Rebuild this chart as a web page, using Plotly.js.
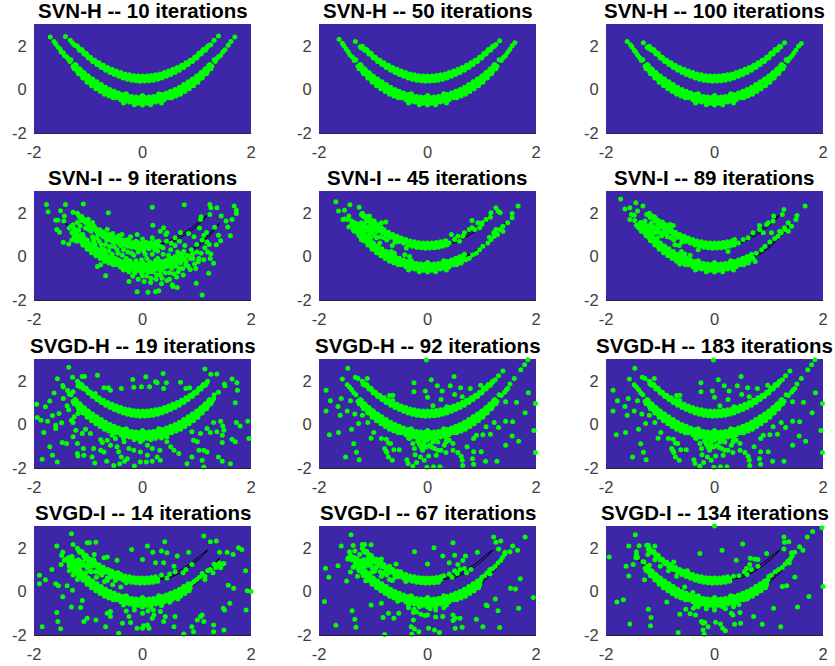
<!DOCTYPE html>
<html><head><meta charset="utf-8"><script src="https://cdn.plot.ly/plotly-3.0.1.min.js"></script>
<style>html,body{margin:0;padding:0;background:#fff}</style></head><body><div id="chart" style="width:835px;height:666px"></div>
<script>
const titles=["SVN-H -- 10 iterations","SVN-H -- 50 iterations","SVN-H -- 100 iterations","SVN-I -- 9 iterations","SVN-I -- 45 iterations","SVN-I -- 89 iterations","SVGD-H -- 19 iterations","SVGD-H -- 92 iterations","SVGD-H -- 183 iterations","SVGD-I -- 14 iterations","SVGD-I -- 67 iterations","SVGD-I -- 134 iterations"];
const xTicks=[-2,0,2], yTicks=[-2,0,2], tickLabelsText=["-2","0","2"];
const xRange=[-2,2], yRange=[-2,3];
// flat x,y lists
const upperBand=[-1.2,1.98,-1.16,1.8,-1.12,1.83,-1.08,1.62,-1.04,1.66,-1,1.44,-.96,1.47,-.92,1.28,-.88,1.34,-.84,1.14,-.8,1.22,-.76,1,-.72,1.11,-.68,.88,-.64,1.01,-.6,.77,-.56,.92,-.52,.68,-.48,.84,-.44,.6,-.4,.78,-.36,.52,-.32,.71,-.28,.47,-.24,.67,-.2,.42,-.16,.63,-.12,.4,-.08,.62,-.04,.37,0,.61,.04,.38,.08,.62,.12,.4,.16,.64,.2,.42,.24,.67,.28,.47,.32,.71,.36,.52,.4,.78,.44,.6,.48,.84,.52,.68,.56,.92,.6,.77,.64,1.01,.68,.88,.72,1.11,.76,1,.8,1.22,.84,1.14,.88,1.34,.92,1.28,.96,1.47,1,1.44,1.04,1.66,1.08,1.62,1.12,1.83,1.16,1.8,1.2,1.98,-.8,1.14,-.64,.91,-.48,.73,-.32,.6,-.16,.53,0,.5,.16,.53,.32,.6,.48,.73,.64,.91,.8,1.14,-1.18,1.9,-1.1,1.74,-1.02,1.56,-.94,1.38,-.9,1.32,-.86,1.24,-.78,1.1,-.7,.99,-.6,.86,-.56,.8,-.52,.76,-.44,.69,-.4,.66,-.36,.62,-.28,.57,-.24,.55,-.2,.53,-.12,.51,-.08,.5,-.04,.49,.04,.49,.08,.5,.12,.51,.2,.53,.24,.55,.28,.57,.36,.62,.4,.66,.44,.69,.52,.76,.56,.8,.6,.86,.7,.99,.78,1.1,.86,1.24,.9,1.32,.94,1.38,1.02,1.56,1.1,1.74,1.18,1.9];
const lowerBand=[-1.32,1.36,-1.28,1.06,-1.24,1.14,-1.2,.84,-1.16,.95,-1.12,.66,-1.08,.77,-1.04,.47,-1,.62,-.96,.31,-.92,.48,-.88,.17,-.84,.35,-.8,.04,-.76,.22,-.72,-.1,-.68,.1,-.64,-.2,-.6,0,-.56,-.3,-.52,-.09,-.48,-.38,-.44,-.16,-.4,-.48,-.36,-.23,-.32,-.54,-.28,-.28,-.24,-.58,-.2,-.32,-.16,-.62,-.12,-.35,-.08,-.63,-.04,-.36,0,-.65,.04,-.36,.08,-.63,.12,-.35,.16,-.61,.2,-.32,.24,-.58,.28,-.28,.32,-.54,.36,-.23,.4,-.48,.44,-.16,.48,-.38,.52,-.09,.56,-.3,.6,0,.64,-.2,.68,.1,.72,-.1,.76,.22,.8,.04,.84,.35,.88,.17,.92,.48,.96,.31,1,.62,1.04,.47,1.08,.77,1.12,.66,1.16,.95,1.2,.84,1.24,1.14,1.28,1.06,1.32,1.36,-1.2,.94,-1.08,.67,-.96,.42,-.84,.21,-.72,.02,-.6,-.14,-.48,-.27,-.36,-.37,-.24,-.44,-.12,-.49,0,-.5,.12,-.49,.24,-.44,.36,-.37,.48,-.27,.6,-.14,.72,.02,.84,.21,.96,.42,1.08,.67,1.2,.94,-1.26,.95,-1.18,.72,-1.1,.52,-1.02,.33,-.94,.17,-.86,.03,-.78,-.1,-.7,-.22,-.62,-.3,-.54,-.38,-1.22,1.1,-1.14,.88,-1.06,.7,-.98,.52,-.9,.38,-.82,.24,-.74,.12,-.66,0,-.58,-.08,-.5,-.16,1.26,.95,1.18,.72,1.1,.52,1.02,.33,.94,.17,.86,.03,.78,-.1,.7,-.22,.62,-.3,.54,-.38,1.22,1.1,1.14,.88,1.06,.7,.98,.52,.9,.38,.82,.24,.74,.12,.66,0,.58,-.08,.5,-.16,-.44,-.3,-.4,-.36,-.32,-.4,-.28,-.42,-.2,-.46,-.16,-.48,-.08,-.5,-.04,-.52,.04,-.52,.08,-.5,.16,-.48,.2,-.46,.28,-.42,.32,-.4,.4,-.36,.44,-.3,-.3,-.2,0,-.28,.3,-.2,-.15,-.7,.15,-.7,0,-.72,-.35,-.62,.35,-.62];
const leftFill=[-1.4,1.45,-1.35,1.55,-1.33,1.35,-1.3,1.5,-1.28,1.25,-1.24,1.4,-1.2,1.3,-1.18,1.45,-1.15,1.15,-1.12,1.35,-1.08,1.2,-1.05,1.5,-1.02,1.1,-1,1.35,-.97,.95,-.93,1.15,-.9,1.45,-.87,.9,-.83,1.2,-.8,.85,-.75,.75,-.7,.95,-.65,.5,-.6,.65,-.55,.7,-1.35,1.15,-1.25,1.05,-1.15,.9,-1.05,.85];
const svnH10=[-1.7,2.4,-1.63,2.2,-1.6,2.08,-1.56,1.95,-1.52,1.85,-1.5,1.72,-1.46,1.68,-1.44,1.55,-1.4,1.5,-1.37,1.42,-1.34,1.28,1.7,2.4,1.63,2.2,1.58,2.02,1.52,1.82,1.48,1.72,1.44,1.55,1.4,1.5,1.37,1.42,1.34,1.28,-1.42,2.43,-1.33,2.25,-1.29,2.13,-1.25,2.03,-1.22,2,1.4,2.45,1.32,2.25,1.26,2.05,1.23,2.02];
const svnH50=[-1.63,2.3,-1.57,2.12,-1.54,2,-1.5,1.85,-1.46,1.72,-1.43,1.58,-1.38,1.48,-1.35,1.32,1.61,2.14,1.56,2,1.52,1.84,1.48,1.7,1.44,1.56,1.4,1.46,1.36,1.32,-1.33,2.2,-1.24,1.96,-1.22,1.9,1.33,2.23,1.26,2.06,1.23,1.98];
const svnH100=[-1.61,2.2,-1.55,2.05,-1.52,1.95,-1.48,1.8,-1.45,1.7,-1.42,1.58,-1.38,1.46,-1.35,1.32,1.6,2.11,1.55,1.98,1.5,1.8,1.46,1.66,1.42,1.52,1.38,1.42,1.35,1.3,-1.31,2.14,-1.24,1.93,-1.21,1.88,1.29,2.14,1.22,1.96];
const svnI9=[-1.77,2.38,-1.74,2.05,-1.51,2.09,-1.42,2.38,-1.09,2.4,-1.28,2.02,-1.44,1.85,-1.6,1.66,-1.56,1.66,-1.45,1.62,-.63,2,.18,2.26,.77,2.37,1.24,2.38,1.26,2.23,1.37,2.23,1.69,2.31,1.73,2.12,1.73,1.97,1.24,1.92,1.45,1.85,1.08,1.82,1.07,1.69,1.54,1.62,1.57,1.35,1.65,1.69,1.62,.95,1.33,1.34,1.4,.97,1.44,.72,1.36,.54,1.13,.97,1.19,.66,1.26,.11,1.31,-.31,1.22,-.77,1.1,-1.77,.99,-1.23,-.1,-1.62,.1,-1.65,.24,-1.62,.3,-1.58,.64,-1.43,.56,-1.38,-.68,-.89,-.77,-.38,-.83,-.46,-.25,-1.15,-1.53,1.11,-1.58,1.23,-1.46,.65,-1.36,.57,.19,1.43,.39,1.31,.33,1.15,.45,1.08,-1.35,1.3,-1.3,1.1,-1.28,1.45,-1.25,.9,-1.2,1.55,-1.18,1.2,-1.15,.8,-1.12,1.65,-1.1,1,-1.08,.6,-1.05,1.3,-1.02,.75,-1,1.7,-.98,.45,-.95,1.15,-.92,.9,-.9,1.4,-.88,.55,-.85,.2,-.82,1,-.8,.7,-.78,1.2,-.75,.35,-.72,.9,-.7,.05,-.68,.55,-.65,1.25,-.62,.25,-.6,.75,-.58,-.1,-.55,1.05,-.52,.45,-.5,-.3,-.48,.85,-.45,.15,-.42,.6,-.4,-.5,-.38,1,-.35,.3,-.32,.75,-.3,-.1,-.28,.5,-.25,-.7,-.22,.9,-.2,.15,-.18,-.9,-.15,.65,-.12,-.2,-.1,1,-.08,-1.05,-.05,.35,-.02,-.75,0,.8,.03,-1.15,.05,.1,.08,-.9,.1,.55,.13,-.25,.15,-1.2,.18,.85,.2,-.7,.23,.3,.25,-1.05,.28,-.1,.3,.7,.33,-.85,.35,-1.25,.38,.4,.4,-.5,.43,1,.45,-1.1,.48,.05,.5,-.75,.53,.6,.55,-1.3,.58,-.3,.6,.85,.63,-.95,.65,.2,.68,-.55,.7,1.1,.73,-.15,.75,-.85,.78,.5,.8,-.4,.83,.05,.85,1.05,.88,-.6,.9,.3,.93,-.1,.95,.9,.98,-.55,1,.55,1.03,-.25,1.05,1.3,1.08,.15,1.1,.75,1.13,-.15,1.15,.4,1.18,1.1,1.2,.2,1.23,.55,1.25,-.1,-.9,.75,-.86,.3,-.84,.85,-.8,.1,-.76,.55,-.74,1.05,-.7,.3,-.66,.75,-.64,-.15,-.6,.45,-.58,1,-.56,.1,-.54,.65,-.5,-.1,-.47,.3,-.44,.95,-.42,-.25,-.4,.5,-.37,.05,-.35,-.4,-.33,.55,-.3,-.6,-.27,.2,-.25,.8,-.23,-.2,-.2,-.5,-.18,.45,-.16,.05,-.14,-.75,-.12,.7,-.1,-.35,-.08,.2,-.06,-.6,-.04,.5,-.02,-.15,0,-.9,.02,.25,.04,-.45,.06,.65,.08,-.1,.1,-.7,.12,.35,.14,-.3,.16,-1,.18,.1,.2,-.55,.22,.55,.24,-.2,.26,-.85,.28,.25,.3,-.4,.32,-.65,.34,.45,.36,-1,.38,.1,.4,-.25,.42,-.75,.44,.7,.46,-.45,.48,-.15,.5,-1.05,.52,.3,.54,-.55,.56,-.2,.58,-.8,.6,.5,.62,-.45,.64,-.1,.66,-.7,.68,.7,.7,-.3,.72,.05,.74,-.55,.76,.2,.8,-.25,.84,-.45,.88,-.1,.92,.1,.96,-.35,1,.2,1.04,-.1,-1.3,.75,-1.25,1.25,-1.22,.7,-1.15,1.4,-1.12,1,-1.08,.85,-1.05,1.55,-1,.6,-1,1.25,-.95,.4,-.92,1.55,-.9,.65];
const svnI45=[-1.69,2.51,-1.64,2.08,-1.53,2.12,-1.43,2.37,-1.26,2.26,-1.56,1.69,-1.53,1.72,-1.45,1.85,-1.47,1.69,-1.4,1.62,-1.45,1.35,-1.37,1.23,-1.31,1.38,-1.22,1.92,-1.19,1.85,-1.1,1.69,-1.07,1.85,-1.22,.77,-.98,1.62,-.85,1.54,-.77,1.58,-1.25,1.23,-1.16,1.46,-1.13,1.23,-1.07,1,-1.28,1.08,-1.19,1.08,-1.1,1.31,-1.01,1.23,-1.22,1.54,-1.13,1.62,-1.04,1.38,-.94,.85,-.88,.62,-.85,1.31,-.76,1,-.82,1.08,-.67,.23,-.61,.15,-.76,.15,-.42,.08,-.33,0,-.18,.46,-.39,.38,.44,1,.56,.92,.5,.77,.4,.62,.34,.72,.59,.69,.65,.92,.68,1.08,.77,1.23,.82,1.31,.87,1.23,.82,1.65,.93,1.54,1.01,1.54,.96,1.31,1.08,1.69,1.26,2.23,1.3,2.08,1.34,2,1.17,2,1.16,1.8,1,1.46,.96,.31,1.02,.46,1.11,.62,1.17,.77,1.23,.92,1.29,1,1.39,1.15,1.26,1.23,1.39,1.38,1.48,1.54,1.56,1.77,1.56,1.97,1.67,2.31,1.33,1.23,1.22,1.08,1.14,.88,.9,.15,.83,.08,.77,-.08,.71,-.15];
const svnI89=[-1.73,2.63,-1.65,2.18,-1.56,2.23,-1.45,2.46,-1.32,2.31,-1.42,2.08,-1.53,1.92,-1.48,1.89,-1.56,1.69,-1.47,1.65,-1.44,1.43,-1.4,1.31,-1.34,1.23,-1.37,1.54,-1.28,1.62,-1.25,1.92,-1.19,1.8,-1.1,1.8,-1.07,1.62,-.96,1.58,-.82,1.46,-.76,1.42,-1.16,1.54,-1.13,1.31,-1.04,1.31,-1.25,1.15,-1.19,1,-1.1,1.08,-.98,1.08,-.82,1.23,-.76,1.08,-.88,1,-.73,.54,-.61,.23,-.55,.11,-.45,.05,-.64,-.35,-.3,.31,.25,.23,1.28,2.15,1.25,1.92,1.09,1.85,1.08,1.62,1.52,1.88,1.5,1.69,1.67,2.31,1.36,1.54,1.42,1.38,.96,1.46,.83,1.42,.83,1.23,.9,1.08,.99,1.54,.71,1.08,.62,.85,.53,.77,.44,.62,.37,.77,1.05,1.08,1.17,.92,1.23,1.08,1.3,1.23,1.11,.82,1.02,.66,.93,.46,.87,.31,.77,.15,.71,-.08,.75,-.23,.56,-.15,1.29,1.31,1.36,1.15,1.2,1.15];
const svgdH19=[-1.36,2.62,-1.29,2.16,-1.57,2.09,-1.11,2.2,-1.07,2.2,-.83,2.25,-1.47,1.79,-1.46,1.71,-1.63,1.44,-1.71,1.07,-1.95,.93,-1.79,.81,-1.46,1.19,-1.16,1.85,-1.19,1.77,-1.14,1.7,-.99,1.5,-.87,1.42,-.71,1.68,-.63,1.68,-.59,1.57,-.39,1.65,-.18,2.06,-.16,1.7,.06,2.19,-.02,1.73,.13,1.73,.24,1.96,.38,2.33,.27,1.91,.44,1.91,.39,1.65,.7,1.93,.8,1.65,.87,1.68,1.15,2.54,1.26,2.3,1.37,2.31,1.12,1.8,.94,1.42,1.51,1.85,1.52,1.77,1.65,2.08,1.74,1.91,1.75,1.57,1.4,1.47,1.71,.99,1.31,1.19,-1.94,.32,-1.87,.19,-1.66,.41,-1.75,.15,-1.82,-.37,-1.6,-.04,-1.54,.5,-1.39,.85,-1.36,.67,-1.31,.19,-1.28,.09,-1.19,.5,-1.26,.35,-1.49,.07,-1.6,-.19,-1.71,-1.03,-1.66,-1.42,-1.85,-1.6,-1.57,-1.72,-1.48,-.83,-1.4,-.88,-1.28,-.57,-1.2,-.88,-1.2,-1.34,-1.19,-1.45,-1.09,-1.11,-1.23,-.27,-1.11,-.42,-1.05,-.22,-.96,-.42,-1.08,-1.42,-.9,-1.11,-.88,-1.77,-.93,-1.49,-.66,-1.69,-.53,-1.88,-.42,-1.8,-.15,-1.91,-.77,-.7,-.74,-.83,-.65,-.73,-.59,-.96,-.77,-1.19,-.71,-1.27,-.47,-1.03,-.44,-1.26,-.39,-1.49,-.33,-1.69,-.28,-1.57,-.56,-.5,-.5,-.65,-.34,-.8,-.25,-1.11,-.16,-1.19,-.04,-1.72,.07,-1.72,.18,-1.69,-.04,-1.27,.09,-1.42,.27,-1.49,.33,-1.65,.52,-1.03,.45,-.8,.58,-1.19,.67,-1.34,.82,-1.8,.91,-1.49,.94,-.73,.91,-.34,1.01,-.8,1.04,-1.19,1.13,-1.19,1.19,-1.27,1.1,-1.65,1.13,-1.95,1.4,-1.49,1.47,-1.69,1.62,-1.8,1.71,-.8,1.65,-.68,1.96,-.65,1.8,-.07,1.94,.15,1.73,.09,1.44,.15,1.48,-.07,1.5,-.27,1.25,-.37,1.37,-.34,1.47,-.5,1.31,.09,1.19,-.19,1.07,-.42,1.47,-.83,.18,-1.11,.32,-1.19,.09,-.96,-.04,-.8,.24,-.65,.45,-.57,-1.38,1.55,-1.35,1.4,-1.28,1.5,1.28,1.12];
const svgdH92=[-.02,2.95,1.85,2.97,1.79,2.74,1.72,2.51,1.6,2.11,1.52,1.85,1.48,1.65,1.39,2.45,1.31,2.23,1.25,2.05,1.2,1.96,-1.47,2.57,-1.57,2.08,-1.33,2.16,-1.28,2.11,-1.11,2.11,-1.19,1.85,-1.87,1.57,-1.79,1.08,-1.59,1.19,-1.65,.82,-1.87,.61,-1.61,.42,-1.48,.62,-1.42,1.08,-1.34,.48,-1.2,.42,-1.27,.04,-1.4,-.22,-1.81,-.48,-1.64,-.37,-1.1,.09,-1.04,-.63,-.99,-.37,-1.36,-.89,-1.31,-1.28,-1.51,-1.49,-1.26,-1.62,-.85,-.65,-.76,-.68,-.72,-.85,-.68,-.88,-.79,-1.11,-.77,-1.2,-.75,-1.29,-.62,-1.16,-.52,-1.16,-.72,-1.49,-.65,-1.65,-.38,-1.62,-.36,-1.79,-.27,-1.92,-.2,-1.75,-.23,-1.39,-.13,-1.49,-.06,-1.65,-.01,-1.97,.11,-1.94,.23,-1.94,.02,-1.45,.16,-1.42,.34,-1.29,.25,-1.19,.47,-1.19,.56,-1.29,.62,-1.46,.64,-1.65,.65,-1.88,.73,-1.03,.85,-1.26,.83,-1.57,.85,-1.83,.99,-1.26,1.07,-1.69,1.28,-1.69,1.44,-.96,1.56,-.53,1.68,-.77,1.16,-.45,1.02,-.47,.9,-.5,.85,-.65,1.08,-.11,1.23,.09,1.31,-.14,1.44,.15,1.57,.12,1.96,-.28,1.99,-1.29,1.99,.96,1.8,.53,1.64,1.02,1.86,1.45,1.44,1.04,-.25,1.91,-.25,1.5,-.04,1.53,.07,2.05,0,1.24,.18,1.77,.42,1.77,.49,2.2,.27,1.53,.25,1.14,.36,.81,.5,1.37,.61,1.68,.64,1.27,.79,1.65,.98,1.8,.1,.85,-.64,1.34,-.7,1.32,-.64,1.1,-.33,-.65,-.27,-.88,-.24,-1.11,-.18,-.77,-.12,-1.03,-.09,-1.19,-.06,-.81,-.02,-1.04,.04,-.96,.13,-1.11,.19,-1.19,.1,-.81,.19,-.81,.34,-.81,.31,-.96,.4,-.73,.47,-.88,-.15,-.9,-.07,-.93,-.1,-1.1,.08,-1.05,-1.48,1.82,-1.44,1.72,-1.4,1.6,-1.36,1.45,1.36,1.32,1.42,1.48,1.45,1.58];
const svgdI14=[-1.31,2.65,-1.28,2.15,-1.58,2.08,-1.02,2.23,-.98,2.23,-.86,2.25,-1.47,1.8,-1.49,1.65,-1.44,1.43,-1.5,1.23,-1.36,1.31,-1.67,1,-1.9,.74,-1.9,.35,-1.79,.54,-1.6,.35,-1.55,.26,-1.39,.26,-1.29,.05,-1.47,-.25,-1.31,-.72,-1.14,-.74,-1.11,-.42,-1.58,-.97,-1.56,-1.38,-1.51,-1.71,-1.85,-1.62,-1.08,-1.38,-1.02,-1.23,-.86,-1.31,-.68,-1.62,-.65,-1,-.59,-.92,-.59,-1.15,-.44,-1.92,-.37,-1.46,-.22,-1.43,-.25,-1.15,-.1,-1.69,.02,-1.58,.09,-1.54,0,-1.69,.12,-1.69,.21,-1.08,.18,-1.23,.33,-.92,.42,-1.15,.39,-1.38,.6,-1.15,.58,-1.62,.76,-1.95,.91,-1.62,.94,-1.85,1.01,-1.31,1.07,-1.15,1.1,-1.08,1.13,-1.38,1.31,-1.54,1.31,-1.85,1.5,-1.77,1.49,-.77,1.51,-.85,1.61,-.54,1.91,-.85,1.58,.28,1.68,.15,1.93,.03,2,0,1.9,.95,1.44,1.08,1.56,1.8,1.67,1.69,1.77,2,1.83,1.92,1.42,1.8,1.25,2.28,1.36,2.31,1.13,2.54,.91,1.23,.64,1.62,.85,1.8,.45,1.77,.35,1.85,.41,2.28,.09,2.08,.19,1.8,0,1.46,-.2,1.92,-.47,1.43,-.65,1.58,-.71,1.54,-.89,1.69,.24,1.31,.39,1.31,.58,1.15,-1.4,1.5,-1.3,1.6,-1.25,1.4,-1.2,1.15,-1.15,.95,-1.1,1.35,-1.05,1.6,-1,1.15,-.95,.9,-.9,1.3,-.85,.65,-.8,1,-.75,.8,-.7,.45,-.65,.6,-.6,.95,-.55,.3,-.5,.5,-.45,.85,-.4,.2,-.3,.4,-1.2,.55,-1.12,.7,-1.35,.95,-1.28,.75,-.3,-.9,-.15,-.85,0,-1,.1,-.9,.2,-.85,.35,-.65,.5,-.5,.65,-.35,.35,.75,.45,.62,.5,.8,.6,.9,.75,.85,.8,1,.95,.45,1,.55,1.05,.65,1.1,.82,1.15,.7,1.2,.95,1.25,1,1.3,.85,1.32,1.25,1.38,1.22,1.42,1.3,1.35,1.1,1.45,1.2,1.5,1.28,.9,.35,1.15,.55];
const svgdI67=[-1.41,2.6,-1.37,2.11,-1.59,2.08,-1.2,2.15,-1.16,2.15,-1.04,2.14,-1.44,1.82,-1.42,1.65,-1.47,1.49,-1.34,1.85,-1.25,1.69,-1.65,1.18,-1.88,1.06,-1.82,.65,-1.9,-.46,-1.49,.48,-1.37,1.11,-1.42,.89,-1.29,.69,-1.14,.49,-1.04,-.62,-.85,-.54,-1.39,-.89,-1.34,-1.28,-1.32,-1.65,-1.69,-1.55,-.82,-1.2,-.72,-1,-.62,-1.23,-.53,-1,-.26,-.97,-.26,-1.31,-.79,-1.98,-.3,-1.62,-.24,-1.72,-.16,-1.85,-.29,-1.97,.02,-1.69,.13,-1.77,.22,-1.89,.15,-1.18,.28,-1.15,0,-1.08,.47,-1.08,.47,-1.34,.51,-1.23,.6,-1.23,.51,-1.69,.64,-1.65,.9,-1.28,1.02,-1.62,1.33,-1.66,1.3,-.89,1.08,-.62,1.1,-.66,1.25,-.35,1.68,-.77,1.53,.15,1.62,.11,1.71,.58,1.95,-.28,1.57,2.08,1.66,1.89,1.52,1.82,1.43,1.8,1.8,2.49,1.22,2.49,1.26,2.26,1.35,2.31,1.31,1.95,.92,1.8,.7,1.62,.5,1.66,.47,2.23,.65,1.42,.12,2,.28,1.62,.4,1.31,0,1.26,-.24,1.82,-.58,1.26,-.7,1.15,-.85,1.49,-.94,1.46,-1.07,1.58,.56,1.23,.3,.72,.4,.8,.45,.65,.5,.95,.55,.82,.6,1,.68,1.05,.72,.85,.8,1,1,.65,1.05,.72,1.1,.85,1.15,1,1.2,1.05,1.25,1.15,1.3,1.3,1.35,1.42,1.38,1.55,1.42,1.7,1.15,.8,-1.45,1.55,-1.38,1.45,-1.3,1.3,-1.25,1.15,-1.2,.95,-1.1,1.5,-1.05,1.3,-1,.9,-.95,1.1,-.85,1.3,-.85,.7,-.75,1.05,-.7,.55,-.6,.8,-.5,.9,-.4,.45,-.35,-.75,-.25,-.82,-.2,-.95,-.12,-1.05,-.05,-1.1,.05,-.8,.15,-.85,.3,-.75,-.55,-.45];
const svgdI134=[0,3,1.98,2.92,1.81,2.75,1.71,2.49,-1.46,2.6,-1.39,2.09,-1.58,2.08,-1.25,2.12,-1.22,2.12,-1.1,2.08,-1.94,1.58,-1.44,1.82,-1.44,1.69,-1.45,1.54,-1.63,1.15,-1.5,1.23,-1.58,.71,-1.29,.54,-1.22,1.92,-1.23,1.69,-1.8,-.49,-1.68,-.38,-1.22,-.82,-1.17,-1.2,-1.18,-1.58,-1.56,-1.49,-.67,-1.88,-.88,-.49,-.64,-1.05,-.53,-.82,-.45,-1.03,-.39,-.77,-.35,-1.08,-.24,-1.38,-.21,-1.46,-.18,-1.43,-.12,-1.62,-.21,-1.77,-.19,-1.97,.02,-1.42,.11,-1.49,.15,-1.69,.2,-1.8,.31,-1,.34,-1.08,.47,-.97,.37,-1.51,.48,-1.46,.72,-1.15,.88,-1.51,1.22,-1.62,1.09,-.77,1.53,-.72,1.74,-.23,2,.23,1.48,.66,1.33,.26,1.25,.23,1.28,2.49,1.29,2.26,1.37,2.28,1.28,1.95,1.57,2.05,1.63,1.89,1.48,1.8,1.42,1.77,.52,2.17,.14,1.89,-.27,1.74,.96,1.74,.66,1.52,.4,1.43,.74,1.49,.8,1.46,.59,1.05,.65,1.23,-1.42,1.55,-1.3,1.35,-1.2,1.2,-1.1,1.45,-1,1.15,-.9,1.3,-.85,.95,-.75,1.35,-.7,.7,-.6,.9,-.5,.95,-.55,.2,-.4,-.05,-.3,-.7,-.15,-.8,0,-.85,.2,-.8,.35,-.7,.45,-.6,.6,-.35,.35,.7,.45,.72,.55,.9,.6,.78,.68,1,.8,1.15,1,.68,1.05,.75,1.12,.9,1.18,1,1.25,1.1,1.3,1.25,1.35,1.38,1.4,1.5,1.43,1.62,1.38,1.3];
// thin black outline curves under the points
const contourUR=[.3,.55,.5,.72,.7,.98,.9,1.3,1.1,1.72,1.2,1.9,1.1,1.6,.9,1.18,.7,.86,.5,.62,.3,.55];
const contourLR=[.65,-.08,.85,.2,1.05,.58,1.25,1.1,1.42,1.52,1.28,1.05,1.05,.48,.85,.1,.65,-.08];
const contourUL=[-1.2,1.9,-1,1.5,-.8,1.2,-.6,.9,-.4,.7,-.6,.82,-.8,1.1,-1,1.4,-1.2,1.9];
const contourLL=[-1.45,1.6,-1.25,1.1,-1.05,.65,-.85,.3,-.65,.02,-.85,.2,-1.05,.55,-1.25,1,-1.45,1.6];

const panelPoints=[svnH10,svnH50,svnH100,svnI9,svnI45,svnI89,svgdH19,svgdH92,svgdH92,svgdI14,svgdI67,svgdI134];
const upperLimit=[9,9,9,.3,.4,.4,9,9,9,.3,.25,.3];
const lowerLimit=[9,9,9,.8,.7,.7,9,9,9,.9,1,1];
const panelContours=[0,0,0,1,1,1,0,0,0,1,1,1];
const panelLeftFill=[0,0,0,0,1,1,0,0,0,1,1,0];
const colLeft=[34,319,606], rowTop=[24,191,359,526], panelW=217, panelH=109;
const W=835,H=666, dotColor="#00ff00", plotBg="#3e26a8";

function xs(a){return a.filter((v,i)=>i%2===0)}
function ys(a){return a.filter((v,i)=>i%2===1)}
function band(a,lim){const o=[];for(let i=0;i<a.length;i+=2){if(a[i]<lim)o.push(a[i],a[i+1])}return o}
const traces=[],annotations=[],layout={width:W,height:H,margin:{l:0,r:0,t:0,b:0},showlegend:false,paper_bgcolor:"#fff",plot_bgcolor:plotBg,font:{family:"Liberation Sans, Arial, sans-serif"}};
titles.forEach((t,i)=>{
  const r=Math.floor(i/3),c=i%3,id=i===0?"":String(i+1),xa="x"+id,ya="y"+id;
  const left=colLeft[c],top=rowTop[r];
  layout["xaxis"+id]={domain:[left/W,(left+panelW)/W],range:xRange,anchor:ya,tickmode:"array",tickvals:xTicks,ticktext:tickLabelsText,showgrid:false,zeroline:false,showline:true,linecolor:"#262626",linewidth:1,ticks:"outside",ticklen:4,tickcolor:"rgba(0,0,0,0)",tickfont:{size:16.5,color:"#404040"},fixedrange:true};
  layout["yaxis"+id]={domain:[1-(top+panelH)/H,1-top/H],range:yRange,anchor:xa,tickmode:"array",tickvals:yTicks,ticktext:tickLabelsText,showgrid:false,zeroline:false,showline:false,ticks:"outside",ticklen:3,tickcolor:"rgba(0,0,0,0)",tickfont:{size:16.5,color:"#404040"},fixedrange:true};
  if(panelContours[i]){[contourUR,contourLR,contourUL,contourLL].forEach(k=>traces.push({type:"scatter",mode:"lines",x:xs(k),y:ys(k),xaxis:xa,yaxis:ya,line:{color:"#000",width:1},hoverinfo:"skip"}))}
  let pts=band(upperBand,upperLimit[i]).concat(band(lowerBand,lowerLimit[i]),panelPoints[i]);
  if(panelLeftFill[i])pts=pts.concat(leftFill);
  traces.push({type:"scatter",mode:"markers",x:xs(pts),y:ys(pts),xaxis:xa,yaxis:ya,cliponaxis:false,marker:{color:dotColor,size:5,line:{width:0}},name:t});
  annotations.push({text:"<b>"+t+"</b>",xref:"paper",yref:"paper",x:(left+panelW/2)/W,y:1-(top-1.2)/H,xanchor:"center",yanchor:"bottom",showarrow:false,font:{size:20.5,color:"#000"},borderpad:0});
});
layout.annotations=annotations;
Plotly.newPlot("chart",traces,layout,{displayModeBar:false,staticPlot:true});
</script></body></html>
